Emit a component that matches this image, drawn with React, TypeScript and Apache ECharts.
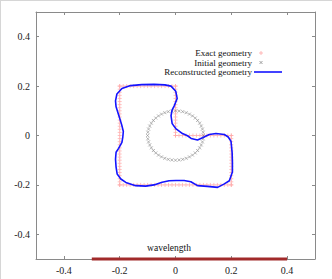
import React, { useEffect, useRef } from "react";
import * as echarts from "echarts";

const xTicks = [-0.4, -0.2, 0, 0.2, 0.4];
const yTicks = [-0.4, -0.2, 0, 0.2, 0.4];

// sample positions along the exact L-shaped boundary
const edgeFull = [
  -0.2, -0.1875, -0.175, -0.1625, -0.15, -0.1375, -0.125, -0.1125, -0.1, -0.0875, -0.075,
  -0.0625, -0.05, -0.0375, -0.025, -0.0125, 0, 0.0125, 0.025, 0.0375, 0.05, 0.0625, 0.075,
  0.0875, 0.1, 0.1125, 0.125, 0.1375, 0.15, 0.1625, 0.175, 0.1875, 0.2,
];

const circleX = [
  0.1, 0.0991, 0.0966, 0.0924, 0.0866, 0.0793, 0.0707, 0.0609, 0.05, 0.0383, 0.0259, 0.0131,
  0, -0.0131, -0.0259, -0.0383, -0.05, -0.0609, -0.0707, -0.0793, -0.0866, -0.0924, -0.0966, -0.0991,
  -0.1, -0.0991, -0.0966, -0.0924, -0.0866, -0.0793, -0.0707, -0.0609, -0.05, -0.0383, -0.0259, -0.0131,
  0, 0.0131, 0.0259, 0.0383, 0.05, 0.0609, 0.0707, 0.0793, 0.0866, 0.0924, 0.0966, 0.0991,
];
const circleY = [
  0, 0.0131, 0.0259, 0.0383, 0.05, 0.0609, 0.0707, 0.0793, 0.0866, 0.0924, 0.0966, 0.0991,
  0.1, 0.0991, 0.0966, 0.0924, 0.0866, 0.0793, 0.0707, 0.0609, 0.05, 0.0383, 0.0259, 0.0131,
  0, -0.0131, -0.0259, -0.0383, -0.05, -0.0609, -0.0707, -0.0793, -0.0866, -0.0924, -0.0966, -0.0991,
  -0.1, -0.0991, -0.0966, -0.0924, -0.0866, -0.0793, -0.0707, -0.0609, -0.05, -0.0383, -0.0259, -0.0131,
];

const reconX = [
  -0.161, -0.192, -0.21, -0.215, -0.213, -0.204, -0.193, -0.187, -0.189, -0.192, -0.204, -0.213,
  -0.215, -0.213, -0.209, -0.196, -0.178, -0.143, -0.107, -0.077, -0.048, -0.023, 0.002, 0.031,
  0.055, 0.079, 0.114, 0.151, 0.175, 0.193, 0.204, 0.204, 0.203, 0.199, 0.189, 0.175, 0.145,
  0.121, 0.097, 0.079, 0.056, 0.043, 0.025, 0.001, -0.012, -0.016, -0.012, -0.005, 0.006, 0.001,
  -0.016, -0.038, -0.077, -0.121, -0.161,
];
const reconY = [
  0.202, 0.19, 0.168, 0.14, 0.116, 0.084, 0.044, 0.016, -0.008, -0.028, -0.052, -0.068, -0.096,
  -0.128, -0.156, -0.176, -0.19, -0.203, -0.205, -0.2, -0.189, -0.183, -0.182, -0.182, -0.187,
  -0.203, -0.206, -0.21, -0.196, -0.183, -0.148, -0.108, -0.069, -0.024, -0.006, 0.004, 0.008,
  0.004, -0.009, -0.018, -0.012, -0.001, 0.008, 0.028, 0.048, 0.08, 0.104, 0.119, 0.15, 0.179,
  0.2, 0.205, 0.207, 0.206, 0.202,
];

const wavelengthX = [-0.3, 0.4];
const wavelengthY = [-0.5, -0.5];

const legendNames = ["Exact geometry", "Initial geometry", "Reconstructed geometry"];

const FONT = "'Liberation Serif', 'DejaVu Serif', serif";
const PINK = "#ffa8a8";
const GRAY = "#8a8a8a";
const BLUE = "#1414ff";

export default function App() {
  const ref = useRef<HTMLDivElement>(null);

  useEffect(() => {
    if (!ref.current) return;
    const chart = echarts.init(ref.current, undefined, { renderer: "svg" });

    const lower = edgeFull.slice(0, 17); // -0.2 .. 0
    const upper = edgeFull.slice(16); // 0 .. 0.2
    const exact: number[][] = [];
    edgeFull.forEach((v) => exact.push([v, -0.2])); // bottom
    lower.forEach((v) => exact.push([0.2, v])); // right lower
    upper.forEach((v) => exact.push([v, 0])); // inner horizontal
    upper.forEach((v) => exact.push([0, v])); // inner vertical
    lower.forEach((v) => exact.push([v, 0.2])); // top
    edgeFull.forEach((v) => exact.push([-0.2, v])); // left

    const circle = circleX.map((x, i) => [x, circleY[i]]);
    const recon = reconX.map((x, i) => [x, reconY[i]]);
    const wave = wavelengthX.map((x, i) => [x, wavelengthY[i]]);

    const frameColor = "#8a8a8a";
    const mkX = (pos: "bottom" | "top") => ({
      type: "value",
      position: pos,
      min: -0.5,
      max: 0.5,
      axisLine: { show: true, onZero: false, lineStyle: { color: frameColor, width: 1 } },
      axisTick: { show: true, inside: true, length: 3, customValues: xTicks, lineStyle: { color: frameColor } },
      axisLabel: {
        show: pos === "bottom",
        customValues: xTicks,
        formatter: (v: number) => String(v),
        fontFamily: FONT,
        fontSize: 10,
        color: "#222",
        margin: 6,
      },
      splitLine: { show: false },
    });
    const mkY = (pos: "left" | "right") => ({
      type: "value",
      position: pos,
      min: -0.5,
      max: 0.5,
      axisLine: { show: true, onZero: false, lineStyle: { color: frameColor, width: 1 } },
      axisTick: { show: true, inside: true, length: 3, customValues: yTicks, lineStyle: { color: frameColor } },
      axisLabel: {
        show: pos === "left",
        customValues: yTicks,
        formatter: (v: number) => String(v),
        fontFamily: FONT,
        fontSize: 10,
        color: "#222",
        margin: 6,
      },
      splitLine: { show: false },
    });

    const legendX = 252;
    const legendY = [53, 62.5, 72];

    chart.setOption({
      animation: false,
      backgroundColor: "#fff",
      grid: { left: 36, right: 17, top: 12, bottom: 20 },
      xAxis: [mkX("bottom"), mkX("top")],
      yAxis: [mkY("left"), mkY("right")],
      series: [
        {
          name: legendNames[0],
          type: "scatter",
          data: exact,
          symbol: "path://M0,5L10,5M5,0L5,10",
          symbolSize: 4,
          itemStyle: { color: "transparent", borderColor: PINK, borderWidth: 0.8, opacity: 0.9 },
          z: 2,
        },
        {
          name: legendNames[1],
          type: "scatter",
          data: circle,
          symbol: "path://M0,0L10,10M10,0L0,10",
          symbolSize: 3,
          itemStyle: { color: "transparent", borderColor: GRAY, borderWidth: 0.8 },
          z: 3,
        },
        {
          name: legendNames[2],
          type: "line",
          data: recon,
          symbol: "none",
          lineStyle: { color: BLUE, width: 1.6 },
          z: 4,
        },
        {
          name: "wavelength",
          type: "line",
          data: wave,
          symbol: "none",
          clip: false,
          lineStyle: { color: "#a12a2a", width: 3 },
          z: 6,
        },
      ],
      graphic: [
        { type: "line", shape: { x1: 0, y1: 0.5, x2: 332, y2: 0.5 }, style: { stroke: "#d6d6d6", lineWidth: 1 } },
        { type: "line", shape: { x1: 0.5, y1: 0, x2: 0.5, y2: 279 }, style: { stroke: "#d6d6d6", lineWidth: 1 } },
        ...legendNames.map((n, i) => ({
          type: "text",
          x: legendX,
          y: legendY[i],
          style: { text: n, fill: "#111", font: `9px ${FONT}`, textAlign: "right", textVerticalAlign: "middle" },
        })),
        { type: "line", shape: { x1: 259, y1: legendY[0], x2: 263, y2: legendY[0] }, style: { stroke: PINK, lineWidth: 0.8 } },
        { type: "line", shape: { x1: 261, y1: legendY[0] - 2, x2: 261, y2: legendY[0] + 2 }, style: { stroke: PINK, lineWidth: 0.8 } },
        { type: "line", shape: { x1: 259.5, y1: legendY[1] - 1.5, x2: 262.5, y2: legendY[1] + 1.5 }, style: { stroke: GRAY, lineWidth: 0.8 } },
        { type: "line", shape: { x1: 262.5, y1: legendY[1] - 1.5, x2: 259.5, y2: legendY[1] + 1.5 }, style: { stroke: GRAY, lineWidth: 0.8 } },
        { type: "line", shape: { x1: 254, y1: legendY[2], x2: 282, y2: legendY[2] }, style: { stroke: BLUE, lineWidth: 1.6 } },
        {
          type: "text",
          x: 169,
          y: 248,
          style: { text: "wavelength", fill: "#111", font: `9.5px ${FONT}`, textAlign: "center", textVerticalAlign: "middle" },
        },
      ],
    });

    return () => chart.dispose();
  }, []);

  return (
    <div
      ref={ref}
      style={{ position: "fixed", left: 0, top: 0, width: 332, height: 279, background: "#fff" }}
    />
  );
}
